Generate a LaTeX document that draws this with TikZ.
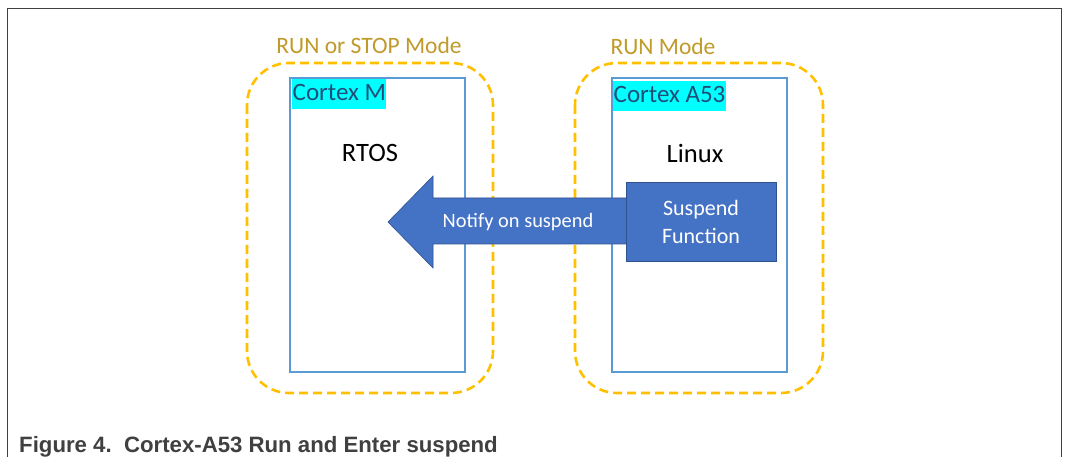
\documentclass[tikz,border=0pt]{standalone}
\usepackage{fontspec}
\setmainfont{Carlito}
\newfontfamily\capfont{Liberation Sans}
\definecolor{gold}{HTML}{FFC000}
\definecolor{goldtext}{HTML}{C09A2A}
\definecolor{boxblue}{HTML}{5B9BD5}
\definecolor{fillblue}{HTML}{4472C4}
\definecolor{edgeblue}{HTML}{2F528F}
\definecolor{cortextext}{HTML}{1F4E79}
\definecolor{hlcyan}{HTML}{00FFFF}
\definecolor{framegray}{HTML}{404040}
\begin{document}
\begin{tikzpicture}[x=1pt,y=-1pt,
  modebox/.style={draw=gold,line width=2.6pt,dash pattern=on 9pt off 5pt,rounded corners=42pt},
  corebox/.style={draw=boxblue,line width=2.2pt},
  modelabel/.style={text=goldtext,font=\fontsize{23.5}{26}\selectfont,inner sep=0pt},
  corelabel/.style={fill=hlcyan,text=cortextext,font=\fontsize{25}{28}\selectfont,inner xsep=0.5pt,inner ysep=2pt,text height=19pt,text depth=7pt,anchor=north west},
  oslabel/.style={text=black,font=\fontsize{26.5}{30}\selectfont,inner sep=0pt},
  whitetext/.style={text=white,align=center,inner sep=0pt}]
\useasboundingbox (0,0) rectangle (1066,457);
\fill[white] (0,0) rectangle (1066,457);
% frame
\draw[framegray,line width=1.3pt] (7.5,457) -- (7.5,8.5) -- (1061.5,8.5) -- (1061.5,457);
% mode boxes
\draw[modebox] (247,63) rectangle (493,393);
\draw[modebox] (575,63) rectangle (823,393);
\node[modelabel] (runstop) at (369,45) {RUN or STOP Mode};
\node[modelabel] (run) at (663,46) {RUN Mode};
% core boxes
\draw[corebox] (290,78) rectangle (465,372);
\draw[corebox] (612,78) rectangle (787,372);
\node[corelabel] (cm) at (292,79) {Cortex M};
\node[corelabel] (ca) at (613,81) {Cortex A53};
\node[oslabel] (rtos) at (370,153) {RTOS};
\node[oslabel] (linux) at (695,153) {Linux};
% arrow
\draw[fill=fillblue,draw=edgeblue,line width=0.6pt] (388,222) -- (433,176) -- (433,198) -- (640,198) -- (640,244) -- (433,244) -- (433,268) -- cycle;
\node[whitetext,font=\fontsize{20.4}{24}\selectfont] (notify) at (518,222) {Notify on suspend};
% suspend function box
\node[draw=edgeblue,fill=fillblue,line width=0.6pt,minimum width=150pt,minimum height=79pt,inner sep=0pt] (susp) at (701,221.5) {};
\node[whitetext,font=\fontsize{22}{28}\selectfont] (susptext) at (susp.center) {Suspend\\Function};
% caption
\node[anchor=base west,inner sep=0pt,text=framegray,font=\capfont\bfseries\fontsize{22.2}{26}\selectfont] (cap) at (19,452) {Figure 4.\ \ Cortex-A53 Run and Enter suspend};
\end{tikzpicture}
\end{document}
